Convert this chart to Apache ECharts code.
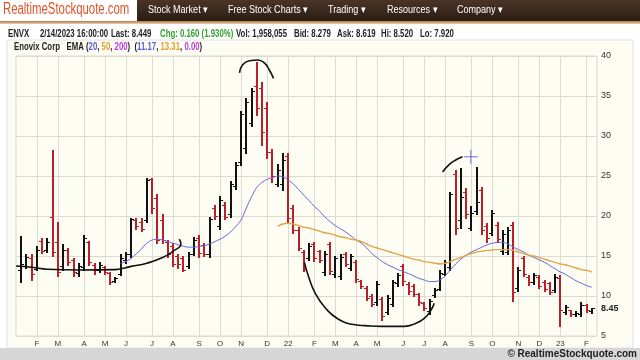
<!DOCTYPE html>
<html><head><meta charset="utf-8">
<script src="https://cdn.jsdelivr.net/npm/echarts@6/dist/echarts.min.js"></script>
<style>html,body{margin:0;padding:0;background:#fff}#c{width:640px;height:360px}</style>
</head><body><div id="c"></div>
<script>
// ---- data ----
const weekDates = ['2021-01-11','2021-01-18','2021-01-25','2021-02-01','2021-02-08','2021-02-15','2021-02-22','2021-03-01','2021-03-08','2021-03-15','2021-03-22','2021-03-29','2021-04-05','2021-04-12','2021-04-19','2021-04-26','2021-05-03','2021-05-10','2021-05-17','2021-05-24','2021-06-01','2021-06-07','2021-06-14','2021-06-21','2021-06-28','2021-07-06','2021-07-12','2021-07-19','2021-07-26','2021-08-02','2021-08-09','2021-08-16','2021-08-23','2021-08-30','2021-09-07','2021-09-13','2021-09-20','2021-09-27','2021-10-04','2021-10-11','2021-10-18','2021-10-25','2021-11-01','2021-11-08','2021-11-15','2021-11-22','2021-11-29','2021-12-06','2021-12-13','2021-12-20','2021-12-27','2022-01-03','2022-01-10','2022-01-18','2022-01-24','2022-01-31','2022-02-07','2022-02-14','2022-02-22','2022-02-28','2022-03-07','2022-03-14','2022-03-21','2022-03-28','2022-04-04','2022-04-11','2022-04-18','2022-04-25','2022-05-02','2022-05-09','2022-05-16','2022-05-23','2022-05-31','2022-06-06','2022-06-13','2022-06-21','2022-06-27','2022-07-05','2022-07-11','2022-07-18','2022-07-25','2022-08-01','2022-08-08','2022-08-15','2022-08-22','2022-08-29','2022-09-06','2022-09-12','2022-09-19','2022-09-26','2022-10-03','2022-10-10','2022-10-17','2022-10-24','2022-10-31','2022-11-07','2022-11-14','2022-11-21','2022-11-28','2022-12-05','2022-12-12','2022-12-19','2022-12-27','2023-01-03','2023-01-09','2023-01-17','2023-01-23','2023-01-30','2023-02-06','2023-02-13'];

const opens = [13.2,13.7,14.8,13.4,16.9,15.7,19.9,16.8,13.8,15.8,
  14.5,12.9,13.6,16.7,13.9,13.2,13.6,12.9,11.9,12.8,
  14.5,15.2,19.5,19.3,19.5,24.6,22.3,19.5,16.8,16.3,
  15.0,14.8,13.7,15.3,17.3,16.4,15.2,21.0,18.8,21.4,
  20.3,23.8,26.8,28.5,31.6,36.2,36.0,33.5,28.0,24.0,
  24.0,27.5,21.0,18.2,15.5,14.8,16.5,15.6,13.0,16.5,
  12.7,12.5,15.2,13.5,14.2,11.9,11.0,10.0,9.2,9.6,
  8.0,9.0,11.6,13.8,11.5,11.2,10.2,9.1,8.1,10.1,
  10.9,12.8,13.6,25.3,19.5,23.0,18.5,20.6,23.2,18.8,
  17.9,18.9,15.6,15.5,18.9,11.0,14.7,12.4,11.7,12.4,
  11.8,11.6,10.8,12.3,8.0,8.2,7.7,7.8,8.9,8.1];
const highs = [17.5,15.3,15.25,16.25,17.3,17.2,28.3,19.3,16.5,16.0,
  14.8,14.1,17.6,16.9,14.1,14.2,13.7,13.0,12.4,15.25,
  15.5,19.8,19.7,19.7,24.8,24.8,22.7,20.3,17.0,16.6,
  15.2,15.0,15.5,17.4,17.6,16.6,19.9,21.4,22.5,21.7,
  24.4,26.7,33.1,34.7,36.0,39.3,36.8,34.2,28.4,26.5,
  27.9,27.9,21.4,18.6,15.8,16.6,16.8,15.8,15.6,16.8,
  15.0,15.2,15.5,15.3,14.5,12.0,11.2,10.25,11.9,9.9,
  10.1,12.0,12.9,14.0,11.8,11.5,10.4,9.3,9.6,11.0,
  13.2,14.5,23.0,25.8,26.0,23.5,21.2,26.1,23.6,19.1,
  20.8,19.2,18.2,18.6,19.2,13.6,15.0,12.6,12.9,12.6,
  12.0,11.8,12.75,12.6,8.9,8.3,8.1,9.2,9.0,8.52];
const lows = [11.8,13.5,12.0,13.25,15.4,15.5,15.0,12.5,13.25,13.9,
  12.5,12.5,13.2,13.9,12.75,13.0,12.8,11.5,11.8,12.6,
  14.1,14.9,18.4,18.1,19.3,20.4,16.6,16.6,14.9,13.7,
  13.5,13.1,13.5,15.1,14.9,15.0,14.9,19.6,18.4,19.6,
  19.9,23.4,26.4,27.9,31.25,32.6,28.9,27.2,24.2,23.7,
  23.3,19.3,17.9,15.7,13.1,14.5,14.4,14.2,12.6,12.8,
  12.4,12.1,13.7,13.25,11.8,11.0,9.5,8.7,8.9,7.0,
  7.8,8.75,11.3,11.4,10.3,10.0,8.9,8.2,7.8,9.9,
  10.7,12.6,13.25,17.8,18.5,19.7,18.2,20.3,17.8,16.8,
  17.6,16.8,15.3,15.2,9.4,10.6,12.5,11.4,11.5,11.0,
  10.6,10.2,10.5,6.3,7.8,7.5,7.5,7.5,8.0,7.92];
const closes = [14.0,14.9,12.7,15.8,15.6,16.8,15.5,13.0,15.7,14.3,
  13.0,13.8,17.2,14.3,13.2,13.9,13.0,11.8,12.2,14.8,
  15.2,19.6,18.7,18.4,24.5,21.0,17.0,17.0,15.3,14.0,
  14.0,13.3,15.2,17.0,15.4,15.2,19.6,20.0,22.0,19.9,
  24.0,26.4,32.8,34.2,35.6,33.5,30.5,28.0,25.0,25.8,
  27.0,19.8,18.2,16.0,13.4,16.3,14.7,14.5,15.3,13.1,
  14.7,14.9,14.0,15.0,12.1,11.2,9.8,9.0,11.5,7.5,
  9.7,11.7,12.6,11.9,10.6,10.3,9.2,8.5,9.4,10.8,
  12.9,14.3,22.7,18.5,22.4,20.3,20.4,21.8,18.3,17.2,
  20.4,17.1,17.8,18.3,10.5,13.2,12.8,11.7,12.6,11.3,
  10.9,10.5,12.4,8.2,8.6,7.8,7.9,8.9,8.3,8.45];

// EMA(20) starting at week index 19, EMA(50) starting at week index 49
const ema20Start = 19;
const ema20 = [14.1,14.3,14.7,15.3,15.9,16.6,17.0,17.1,17.0,16.8,
  16.6,16.4,16.2,16.1,16.1,16.2,16.3,16.5,16.8,17.1,
  17.5,18.0,18.7,19.5,21.0,22.4,23.6,24.2,24.6,24.8,
  25.0,24.9,24.5,24.0,23.3,22.6,21.9,21.2,20.6,19.9,
  19.3,18.8,18.4,18.0,17.5,17.0,16.6,16.0,15.3,14.8,
  14.3,13.9,13.6,13.3,13.05,12.8,12.5,12.2,12.0,11.8,
  11.8,12.0,12.5,13.3,14.0,14.6,15.1,15.5,15.8,16.1,
  16.4,16.6,16.7,16.7,16.5,16.1,15.8,15.5,15.1,14.8,
  14.5,14.2,13.8,13.4,13.0,12.7,12.3,11.9,11.6,11.3,11.1];
const ema50Start = 49;
const ema50 = [18.7,19.0,19.1,19.0,18.8,18.6,18.5,18.3,18.1,17.9,
  17.8,17.6,17.4,17.3,17.1,17.0,16.8,16.5,16.2,16.0,
  15.8,15.6,15.4,15.2,15.0,14.8,14.6,14.5,14.3,14.2,
  14.1,14.0,14.1,14.3,14.6,14.8,15.1,15.3,15.5,15.6,
  15.7,15.75,15.8,15.8,15.8,15.7,15.5,15.3,15.1,15.0,
  14.8,14.6,14.4,14.2,14.0,13.9,13.7,13.5,13.3,13.2,13.0];

// hand-drawn annotations (week position, price)
const annoBase = [[-1,13.75],[2,13.6],[5,13.35],[11,13.25],[18,13.3],[21,13.7],[24,14.1],[27,14.8],[29,15.6],[30.5,16.5],[30.2,17.1]];
const annoTop = [[41.7,37.9],[42.3,38.9],[43.6,39.4],[45.2,39.5],[46.5,39.1],[47.4,38.25],[48.2,37.2]];
const annoCup = [[54.1,14.2],[54.9,12.4],[56.2,10.3],[58.1,8.5],[60.6,7.1],[63.8,6.4],[65.7,6.3],[68.8,6.2],[73.2,6.2],[75.1,6.5],[77,7.2],[78.3,8.25],[78.9,9.1]];
const annoAug = [[80.5,25.5],[81.7,26.4],[83.0,27.0],[84.3,27.4]];
const annoCross = [[85.9,27.4]];

const lastPrice = 8.45;
const yTicks = [5,10,15,20,25,30,35,40];
const monthLetters = ['J','F','M','A','M','J','J','A','S','O','N','D'];

// ---- build ----
const cats = [''].concat(weekDates, ['']);
const isMonthStart = cats.map((d, i) => {
  if (!d || i < 2) return false;
  return d.slice(5,7) !== cats[i-1].slice(5,7);
});
function labelOf(d) {
  const m = +d.slice(5,7) - 1;
  return m === 0 ? d.slice(2,4) : monthLetters[m];
}
const ohlc = weekDates.map((d, i) => [i + 1, opens[i], highs[i], lows[i], closes[i]]);
const e20 = ema20.map((v, k) => [ema20Start + k + 1, v]);
const e50 = ema50.map((v, k) => [ema50Start + k + 1, v]);
const shift = a => a.map(p => [p[0] + 1, p[1]]);

const BLACK = '#111111', RED = '#b8202a';
const chart = echarts.init(document.getElementById('c'), null, {renderer: 'canvas'});
const annoStyle = {type: 'line', xAxisIndex: 1, smooth: 0.5, symbol: 'none', silent: true,
  lineStyle: {color: '#111', width: 1.6}, z: 5};

const fontTxt = 'bold 10px "Liberation Sans", Arial, sans-serif';
function txt(x, y, text, fill, font, sx) {
  return {type: 'text', x: x, y: y, scaleX: sx, silent: true,
    style: {text: text, x: 0, y: 0, fill: fill, font: font, verticalAlign: 'middle'}};
}

const option = {
  backgroundColor: '#ffffff',
  animation: false,
  grid: {left: 16, right: 43, top: 56, bottom: 24, show: true, backgroundColor: '#fefdf4',
    borderColor: '#d9d8cf', borderWidth: 1},
  xAxis: [{
    type: 'category', data: cats, boundaryGap: false,
    axisLine: {show: false}, axisTick: {show: false},
    axisLabel: {interval: (i) => isMonthStart[i], formatter: labelOf, fontSize: 8,
      color: '#333', margin: 4, fontFamily: 'Liberation Sans'},
    splitLine: {show: true, interval: (i) => isMonthStart[i], lineStyle: {color: '#dedcd2', width: 1}}
  }, {
    type: 'value', min: 0, max: cats.length - 1, show: false
  }],
  yAxis: {
    type: 'value', position: 'right', min: yTicks[0], max: yTicks[yTicks.length - 1], interval: 5,
    axisLine: {show: false}, axisTick: {show: false},
    axisLabel: {fontSize: 9, color: '#333', margin: 4, fontFamily: 'Liberation Sans'},
    splitLine: {lineStyle: {color: '#dedcd2', width: 1}}
  },
  graphic: [
    {type: 'rect', z: -20, silent: true, shape: {x: 7, y: 40, width: 626, height: 308}, style: {fill: '#fefdf4', stroke: '#e2e2e2'}},
    {type: 'rect', silent: true, shape: {x: 0, y: 0, width: 640, height: 21},
      style: {fill: new echarts.graphic.LinearGradient(0, 0, 0, 1, [{offset: 0, color: '#4a3526'}, {offset: 1, color: '#2a1d14'}])}},
    {type: 'rect', silent: true, shape: {x: 0, y: 21, width: 640, height: 3},
      style: {fill: new echarts.graphic.LinearGradient(0, 0, 0, 1, [{offset: 0, color: '#b8763a'}, {offset: 1, color: '#e8d2bc'}])}},
    {type: 'rect', silent: true, shape: {x: 0, y: 0, width: 137, height: 21}, style: {fill: '#ffffff'}},
    txt(3, 10, 'RealtimeStockquote.com', '#e0552a', '16px "Liberation Sans", Arial, sans-serif', 0.71),
    txt(148, 10, 'Stock Market \u25BE', '#ffffff', '11px "Liberation Sans", Arial, sans-serif', 0.82),
    txt(228, 10, 'Free Stock Charts \u25BE', '#ffffff', '11px "Liberation Sans", Arial, sans-serif', 0.82),
    txt(328, 10, 'Trading \u25BE', '#ffffff', '11px "Liberation Sans", Arial, sans-serif', 0.82),
    txt(387, 10, 'Resources \u25BE', '#ffffff', '11px "Liberation Sans", Arial, sans-serif', 0.82),
    txt(457, 10, 'Company \u25BE', '#ffffff', '11px "Liberation Sans", Arial, sans-serif', 0.82),
    txt(8, 34, 'ENVX', '#222', fontTxt, 0.78),
    txt(40, 34, '2/14/2023 16:00:00', '#222', fontTxt, 0.78),
    txt(111, 34, 'Last: 8.449', '#222', fontTxt, 0.78),
    txt(160, 34, 'Chg: 0.160 (1.930%)', '#2fa12f', fontTxt, 0.78),
    txt(236, 34, 'Vol: 1,958,055', '#222', fontTxt, 0.78),
    txt(294, 34, 'Bid: 8.279', '#222', fontTxt, 0.78),
    txt(337, 34, 'Ask: 8.619', '#222', fontTxt, 0.78),
    txt(381, 34, 'Hi: 8.520', '#222', fontTxt, 0.78),
    txt(420, 34, 'Lo: 7.920', '#222', fontTxt, 0.78),
    {type: 'text', x: 14, y: 47, scaleX: 0.78, silent: true, style: {
      text: '{k|Enovix Corp}   {k|EMA (}{b|20}{k|, }{o|50}{k|, }{p|200}{k|)}  {k|(}{b|11.17}{k|, }{o|13.31}{k|, }{p|0.00}{k|)}',
      verticalAlign: 'middle', font: fontTxt,
      rich: {k: {fill: '#222', font: fontTxt}, b: {fill: '#5b5bd6', font: fontTxt},
        o: {fill: '#e0a030', font: fontTxt}, p: {fill: '#b63fe0', font: fontTxt}}}},
    {type: 'rect', silent: true, shape: {x: 0, y: 348, width: 640, height: 12}, style: {fill: '#d6d6d6'}},
    {type: 'text', x: 637, y: 354, silent: true, style: {text: '\u00A9 RealtimeStockquote.com', fill: '#222',
      font: 'bold 10px "Liberation Sans", Arial, sans-serif', align: 'right', verticalAlign: 'middle'}}
  ],
  series: [
    {
      type: 'custom', xAxisIndex: 1, data: ohlc, encode: {x: 0, y: [1, 2, 3, 4]}, z: 3,
      renderItem: function (params, api) {
        const x = api.value(0);
        const o = api.coord([x, api.value(1)]);
        const h = api.coord([x, api.value(2)]);
        const l = api.coord([x, api.value(3)]);
        const c = api.coord([x, api.value(4)]);
        const px = Math.round(o[0]);
        const col = api.value(4) >= api.value(1) ? BLACK : RED;
        const oy = Math.round(o[1]) + 0.5, cy = Math.round(c[1]) + 0.5;
        return {type: 'group', children: [
          {type: 'line', shape: {x1: px, y1: Math.round(h[1]), x2: px, y2: Math.round(l[1]) + 1}, style: {stroke: col, lineWidth: 2}},
          {type: 'line', shape: {x1: px - 3, y1: oy, x2: px, y2: oy}, style: {stroke: col, lineWidth: 1}},
          {type: 'line', shape: {x1: px, y1: cy, x2: px + 3, y2: cy}, style: {stroke: col, lineWidth: 1}}
        ]};
      },
      markLine: {silent: true, symbol: 'none', data: [{yAxis: lastPrice}],
        lineStyle: {color: 'rgba(0,0,0,0)'},
        label: {position: 'end', formatter: '8.45', fontSize: 9, fontWeight: 'bold', color: '#222', distance: 4}}
    },
    {type: 'line', xAxisIndex: 1, data: e20, smooth: 0.3, symbol: 'none', lineStyle: {color: '#6767d8', width: 1}, z: 4},
    {type: 'line', xAxisIndex: 1, data: e50, smooth: 0.3, symbol: 'none', lineStyle: {color: '#e3a447', width: 1.4}, z: 4},
    Object.assign({data: shift(annoBase)}, annoStyle),
    Object.assign({data: shift(annoTop)}, annoStyle),
    Object.assign({data: shift(annoCup)}, annoStyle),
    Object.assign({data: shift(annoAug)}, annoStyle),
    {type: 'scatter', xAxisIndex: 1, data: shift(annoCross), symbol: 'path://M0,-10L0,10M-10,0L10,0',
      symbolSize: [14, 14], itemStyle: {color: 'rgba(0,0,0,0)', borderColor: '#4b4bd8', borderWidth: 1}, z: 6, silent: true}
  ]
};
chart.setOption(option);
</script></body></html>
